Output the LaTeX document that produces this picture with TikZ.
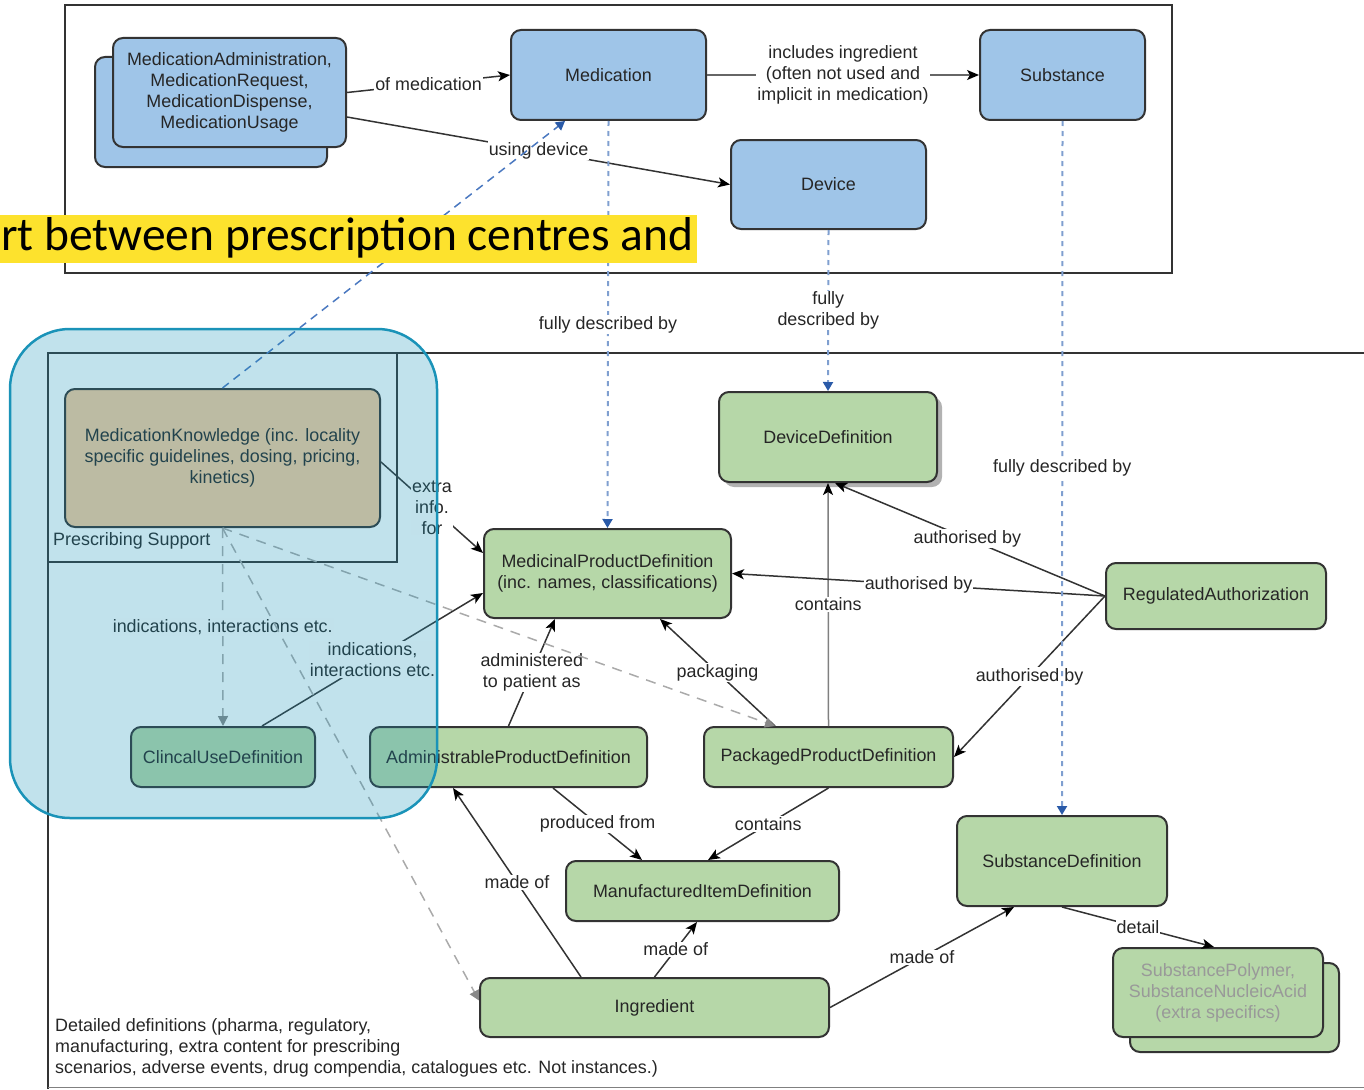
\documentclass[tikz,border=0pt]{standalone}
\usepackage{fontspec}
\setmainfont{Liberation Sans}
\newfontfamily\bannerfont{Carlito}
\usetikzlibrary{arrows.meta,shadows}
\definecolor{nodeblue}{HTML}{9FC5E8}
\definecolor{nodegreen}{HTML}{B6D7A8}
\definecolor{nodetan}{HTML}{F9CB9C}
\definecolor{edgec}{HTML}{333333}
\definecolor{hlc}{HTML}{1A93B8}
\definecolor{dotblue}{HTML}{7F9FD0}
\definecolor{dashblue}{HTML}{4A78C0}
\definecolor{arrowblue}{HTML}{2A5AA8}
\definecolor{dashgray}{HTML}{AAAAAA}
\definecolor{bannerc}{HTML}{FDE22D}
\newcommand\dgfont{\fontsize{17.9}{21}\selectfont}
\begin{document}
\begin{tikzpicture}[x=1pt,y=-1pt,
  box/.style={draw=edgec, line width=2pt, rounded corners=10pt, align=center, font=\dgfont, text=black!85, inner sep=2pt},
  bluebox/.style={box, fill=nodeblue},
  greenbox/.style={box, fill=nodegreen},
  tanbox/.style={box, fill=nodetan},
  arr/.style={draw=edgec, line width=1.5pt, -{Stealth[length=12pt,width=10pt,inset=3pt,color=black]}},
  lbl/.style={fill=white, inner sep=1pt, font=\dgfont, align=center, text=black!85},
  dotarr/.style={draw=dotblue, line width=2pt, dash pattern=on 5pt off 5pt, -{Triangle[length=9pt,width=10pt,color=arrowblue]}},
  dasharr/.style={draw=dashblue, line width=1.5pt, dash pattern=on 8pt off 6pt, -{Triangle[length=9pt,width=10pt,color=arrowblue]}},
  grayarr/.style={draw=dashgray, line width=1.5pt, dash pattern=on 10pt off 8pt, -{Triangle[length=10pt,width=10pt,color=dashgray!80!black]}},
  frame/.style={draw=edgec, line width=2pt}
]
\useasboundingbox (0,0) rectangle (1364,1089);
% frames
\draw[frame] (65,5) rectangle (1172,273);
\draw[frame] (1364,353) -- (48,353) -- (48,1089);
\draw[draw=gray, line width=1.5pt] (48,1087.5) -- (1364,1087.5);
\draw[frame] (48,353) rectangle (397,562);
\node[anchor=west, font=\dgfont, text=black!85, inner sep=0pt] (ps) at (53,541) {Prescribing Support};
\node[anchor=north west, font=\dgfont, text=black!85, align=left, inner sep=0pt] (detail) at (55,1018)
  {Detailed definitions (pharma, regulatory,\\manufacturing, extra content for prescribing\\scenarios, adverse events, drug compendia, catalogues etc. Not instances.)};

% nodes
\node[bluebox, minimum width=232pt, minimum height=110pt] (medadmback) at (211,112) {};
\node[bluebox, minimum width=233pt, minimum height=109pt] (medadm) at (229.5,92.5) {MedicationAdministration,\\MedicationRequest,\\MedicationDispense,\\MedicationUsage};
\node[bluebox, minimum width=195pt, minimum height=90pt] (med) at (608.5,75) {Medication};
\node[bluebox, minimum width=165pt, minimum height=90pt] (sub) at (1062.5,75) {Substance};
\node[bluebox, minimum width=195pt, minimum height=89pt] (dev) at (828.5,184.5) {Device};
\node[tanbox, minimum width=315pt, minimum height=138pt] (mk) at (222.5,458) {MedicationKnowledge (inc. locality\\specific guidelines, dosing, pricing,\\kinetics)};
\node[greenbox, minimum width=247pt, minimum height=89pt] (mpd) at (607.5,573.5) {MedicinalProductDefinition\\(inc. names, classifications)};
\node[greenbox, minimum width=218pt, minimum height=90pt, drop shadow={shadow xshift=5pt, shadow yshift=-5pt, fill=black, opacity=0.3}] (devdef) at (828,437) {DeviceDefinition};
\node[greenbox, minimum width=220pt, minimum height=66pt] (ra) at (1216,596) {RegulatedAuthorization};
\node[greenbox, minimum width=184pt, minimum height=60pt] (cud) at (223,757) {ClincalUseDefinition};
\node[greenbox, minimum width=277pt, minimum height=60pt] (apd) at (508.5,757) {AdministrableProductDefinition};
\node[greenbox, minimum width=249pt, minimum height=60pt] (ppd) at (828.5,757) {PackagedProductDefinition};
\node[greenbox, minimum width=273pt, minimum height=60pt] (mfg) at (702.5,891) {ManufacturedItemDefinition};
\node[greenbox, minimum width=349pt, minimum height=59pt] (ing) at (654.5,1007.5) {Ingredient};
\node[greenbox, minimum width=210pt, minimum height=90pt] (subdef) at (1062,861) {SubstanceDefinition};
\node[greenbox, minimum width=209pt, minimum height=89pt] (spback) at (1234.5,1007.5) {};
\node[greenbox, minimum width=210pt, minimum height=89pt, text=black!40] (sp) at (1218,992.5) {SubstancePolymer,\\SubstanceNucleicAcid\\(extra specifics)};

% solid edges
\draw[arr] (medadm.east) -- node[lbl] {of medication} (med.west);
\draw[arr] ([yshift=-24.5pt]medadm.east) -- node[lbl] {using device} (dev.west);
\draw[arr, draw=black!60] (med.east) -- node[lbl] {includes ingredient\\(often not used and\\implicit in medication)} (sub.west);
\draw[arr] ([yshift=-4pt]mk.east) -- node[lbl] {extra\\info.\\for} ([yshift=20.5pt]mpd.west);
\draw[arr] ([xshift=39pt]cud.north) -- node[lbl] {indications,\\interactions etc.} ([yshift=-19.5pt]mpd.west);
\draw[arr] (apd.north) -- node[lbl] {administered\\to patient as} ([xshift=-52.5pt]mpd.south);
\draw[arr] ([xshift=-53.5pt]ppd.north) -- node[lbl] {packaging} ([xshift=52.5pt]mpd.south);
\draw[arr, draw=black!50] (ppd.north) -- node[lbl] {contains} (devdef.south);
\draw[arr] (ra.west) -- node[lbl, pos=0.51] {authorised by} ([xshift=7pt]devdef.south);
\draw[arr] (ra.west) -- node[lbl] {authorised by} (mpd.east);
\draw[arr] (ra.west) -- node[lbl] {authorised by} (ppd.east);
\draw[arr] ([xshift=44.5pt]apd.south) -- node[lbl] {produced from} ([xshift=-60.5pt]mfg.north);
\draw[arr] (ppd.south) -- node[lbl] {contains} ([xshift=5.5pt]mfg.north);
\draw[arr] ([xshift=-73.5pt]ing.north) -- node[lbl] {made of} ([xshift=-55.5pt]apd.south);
\draw[arr] (ing.north) -- node[lbl] {made of} ([xshift=-5.5pt]mfg.south);
\draw[arr] (ing.east) -- node[lbl] {made of} ([xshift=-48pt]subdef.south);
\draw[arr] (subdef.south) -- node[lbl] {detail} ([xshift=-4pt]sp.north);

% dotted "fully described by"
\draw[dotarr] (med.south) -- node[lbl] {fully described by} (mpd.north);
\draw[dotarr] (dev.south) -- node[lbl] {fully\\described by} (devdef.north);
\draw[dotarr] (sub.south) -- node[lbl] {fully described by} (subdef.north);
% dashed from MedicationKnowledge
\draw[grayarr] (mk.south) -- node[lbl] {indications, interactions etc.} (cud.north);
\draw[grayarr] (mk.south) -- ([yshift=7pt]ing.west);
\draw[grayarr] (mk.south) -- ([xshift=-53.5pt]ppd.north);
\draw[dasharr] (mk.north) -- ([xshift=-43.5pt]med.south);

% banner
\fill[bannerc] (0,215) rectangle (697,263);
\node[anchor=west, inner sep=0pt, font=\bannerfont\fontsize{47.5}{50}\selectfont] (banner) at (1,238) {rt between prescription centres and};

% highlight overlay
\draw[draw=hlc, line width=2.5pt, fill=hlc, fill opacity=0.27, rounded corners=60pt] (10,329) rectangle (437,818);
\end{tikzpicture}
\end{document}
